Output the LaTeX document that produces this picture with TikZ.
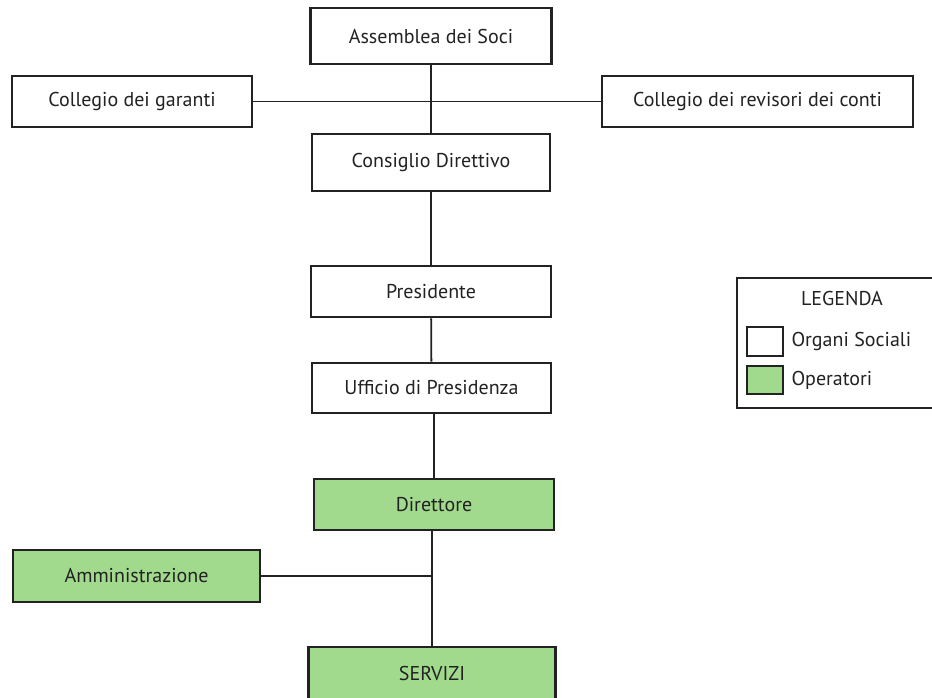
\documentclass[tikz,border=0pt]{standalone}
\usepackage{fontspec}
\setmainfont{PT Sans}
\usetikzlibrary{positioning}
\definecolor{verdeop}{RGB}{161,218,141}
\definecolor{bordo}{RGB}{34,34,34}

\begin{document}
\begin{tikzpicture}
[every node/.style={inner sep=0pt, font=\fontsize{20pt}{24pt}\selectfont, text=bordo},
 organo/.style={rectangle, fill=white, line width=2.6pt, draw=bordo},
 operatore/.style={rectangle, fill=verdeop, line width=2.6pt, draw=bordo},
 linea/.style={line width=1.8pt, color=bordo}]
\useasboundingbox (0pt, 0pt) rectangle (932pt, -697pt);
\node (assemblea) [organo, minimum width=241pt, minimum height=56pt] at (431pt, -36pt) {Assemblea dei Soci};
\node (garanti) [organo, minimum width=240pt, minimum height=51pt] at (132pt, -101.5pt) {Collegio dei garanti};
\node (revisori) [organo, minimum width=311pt, minimum height=51pt] at (757.5pt, -101.5pt) {Collegio dei revisori dei conti};
\node (consiglio) [organo, minimum width=238pt, minimum height=57pt] at (431pt, -162.5pt) {Consiglio Direttivo};
\node (presidente) [organo, minimum width=240pt, minimum height=51pt] at (431pt, -291.5pt) {Presidente};
\node (ufficio) [organo, minimum width=239pt, minimum height=50pt] at (431.5pt, -388pt) {Ufficio di Presidenza};
\node (direttore) [operatore, minimum width=240pt, minimum height=51pt] at (434pt, -504.5pt) {Direttore};
\node (amministrazione) [operatore, minimum width=247pt, minimum height=52pt] at (136.5pt, -576pt) {Amministrazione};
\node (servizi) [operatore, minimum width=247pt, minimum height=52pt] at (432pt, -673pt) {SERVIZI};
% legenda
\node (legenda) [rectangle, line width=2.6pt, draw=bordo, minimum width=203pt, minimum height=130pt] at (838.5pt, -343pt) {};
\node (titolo) at (842pt, -298pt) {LEGENDA};
\node (sociali) [organo, minimum width=36pt, minimum height=29pt] at (765pt, -341.5pt) {};
\node (operatori) [operatore, minimum width=36pt, minimum height=28pt] at (765pt, -380pt) {};
\node (sociali txt) [right=7pt of sociali] {Organi Sociali};
\node (operatori txt) [right=7pt of operatori] {Operatori};

\draw [linea] (assemblea) to (consiglio);
\draw [linea] (garanti) to (revisori);
\draw [linea] (consiglio) to (presidente);
\draw [linea] (presidente) to (ufficio);
\draw [linea] (ufficio.south -| direttore.north) to (direttore.north);
\draw [linea] (direttore.south -| servizi.north) to (servizi.north);
\draw [linea] (amministrazione) to (amministrazione -| servizi);
\end{tikzpicture}
\end{document}
